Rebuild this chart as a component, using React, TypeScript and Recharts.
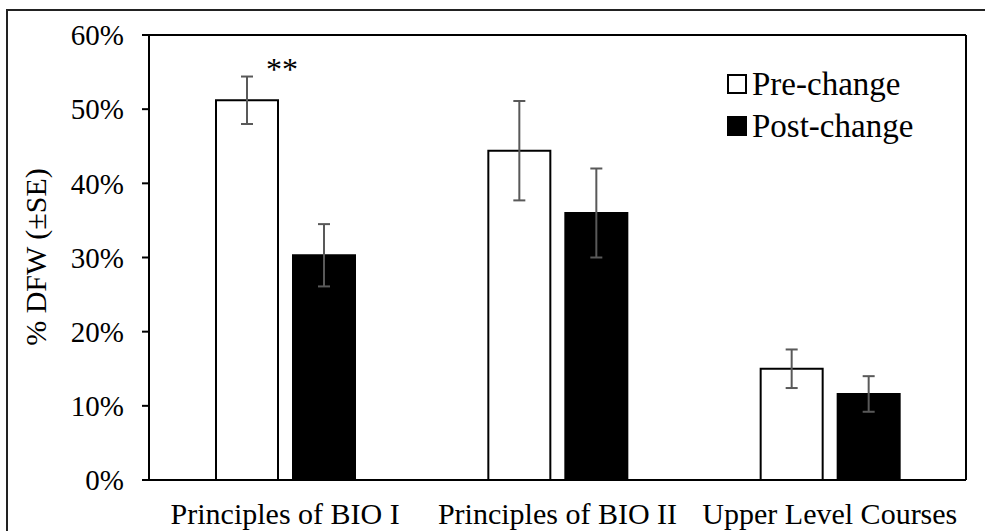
import React from "react";
import { Bar, BarChart, ErrorBar, XAxis, YAxis } from "recharts";

const courses = ["Principles of BIO I", "Principles of BIO II", "Upper Level Courses"];
const preChange = [0.512, 0.444, 0.150];
const preSE = [0.032, 0.067, 0.026];
const postChange = [0.303, 0.360, 0.116];
const postSE = [0.042, 0.060, 0.024];
const significance = ["**", "", ""];
const yTicks = [0, 0.1, 0.2, 0.3, 0.4, 0.5, 0.6];

const font = "Liberation Serif, DejaVu Serif, serif";

const chartData = courses.map((course, i) => ({
    course,
    pre: preChange[i],
    preErr: preSE[i],
    post: postChange[i],
    postErr: postSE[i],
}));

const legendItems = [
    { label: "Pre-change", fill: "#fff" },
    { label: "Post-change", fill: "#000" },
];

function LegendBox() {
    return (
        <div
            style={{
                position: "absolute",
                left: 727,
                top: 63,
                fontFamily: font,
                fontSize: 33,
                color: "#000",
            }}>
            {legendItems.map(item => (
                <div key={item.label} style={{ display: "flex", alignItems: "center", height: 42 }}>
                    <span
                        style={{
                            display: "inline-block",
                            width: 16,
                            height: 16,
                            background: item.fill,
                            border: "2px solid #000",
                            marginRight: 5,
                        }} />
                    <span>{item.label}</span>
                </div>
            ))}
        </div>
    );
}

function SigLabel(props: any) {
    const { x, y, width, index } = props;
    const text = significance[index];
    if (!text) return null;
    return (
        <text x={x + width + 4} y={y - 20} textAnchor="middle" fontFamily={font} fontSize={32} fill="#000">
            {text}
        </text>
    );
}

export default function App() {
    return (
        <div
            style={{
                position: "absolute",
                left: 0,
                top: 0,
                width: 985,
                height: 531,
                overflow: "hidden",
                background: "#fff",
            }}>
            <div
                style={{
                    position: "absolute",
                    left: 6,
                    top: 9,
                    width: 985,
                    height: 540,
                    border: "2px solid #222",
                }} />
            <BarChart
                width={985}
                height={531}
                data={chartData}
                margin={{ top: 34, right: 18, left: 89, bottom: 0 }}
                barSize={62}
                barGap={15}
                style={{ position: "absolute", left: 0, top: 0 }}>
                <XAxis
                    dataKey="course"
                    height={51}
                    axisLine={{ stroke: "#000", strokeWidth: 2 }}
                    tickLine={false}
                    tickSize={0}
                    tickMargin={23}
                    tick={{ fontFamily: font, fontSize: 30, fill: "#000" }}
                    interval={0} />
                <XAxis
                    xAxisId="top"
                    orientation="top"
                    dataKey="course"
                    height={1}
                    tick={false}
                    tickLine={false}
                    axisLine={{ stroke: "#000", strokeWidth: 2 }} />
                <YAxis
                    width={60}
                    domain={[0, 0.6]}
                    ticks={yTicks}
                    tickFormatter={(v: number) => `${Math.round(v * 100)}%`}
                    axisLine={{ stroke: "#000", strokeWidth: 2 }}
                    tickLine={{ stroke: "#000", strokeWidth: 2 }}
                    tickSize={7}
                    tickMargin={18}
                    tick={{ fontFamily: font, fontSize: 29, fill: "#000" }}
                    label={() => (
                        <text
                            x={35}
                            y={257}
                            transform="rotate(-90, 35, 257)"
                            textAnchor="middle"
                            dominantBaseline="central"
                            fontFamily={font}
                            fontSize={30}
                            fill="#000">
                            % DFW (±SE)
                        </text>
                    )} />
                <YAxis
                    yAxisId="right"
                    orientation="right"
                    width={1}
                    domain={[0, 0.6]}
                    tick={false}
                    tickLine={false}
                    axisLine={{ stroke: "#000", strokeWidth: 2 }} />
                <Bar dataKey="pre" name="Pre-change" fill="#fff" stroke="#000" strokeWidth={2} isAnimationActive={false} label={<SigLabel />}>
                    <ErrorBar dataKey="preErr" width={6} stroke="#595959" strokeWidth={2} />
                </Bar>
                <Bar dataKey="post" name="Post-change" fill="#000" stroke="#000" strokeWidth={2} isAnimationActive={false}>
                    <ErrorBar dataKey="postErr" width={6} stroke="#595959" strokeWidth={2} />
                </Bar>
            </BarChart>
            <LegendBox />
        </div>
    );
}
